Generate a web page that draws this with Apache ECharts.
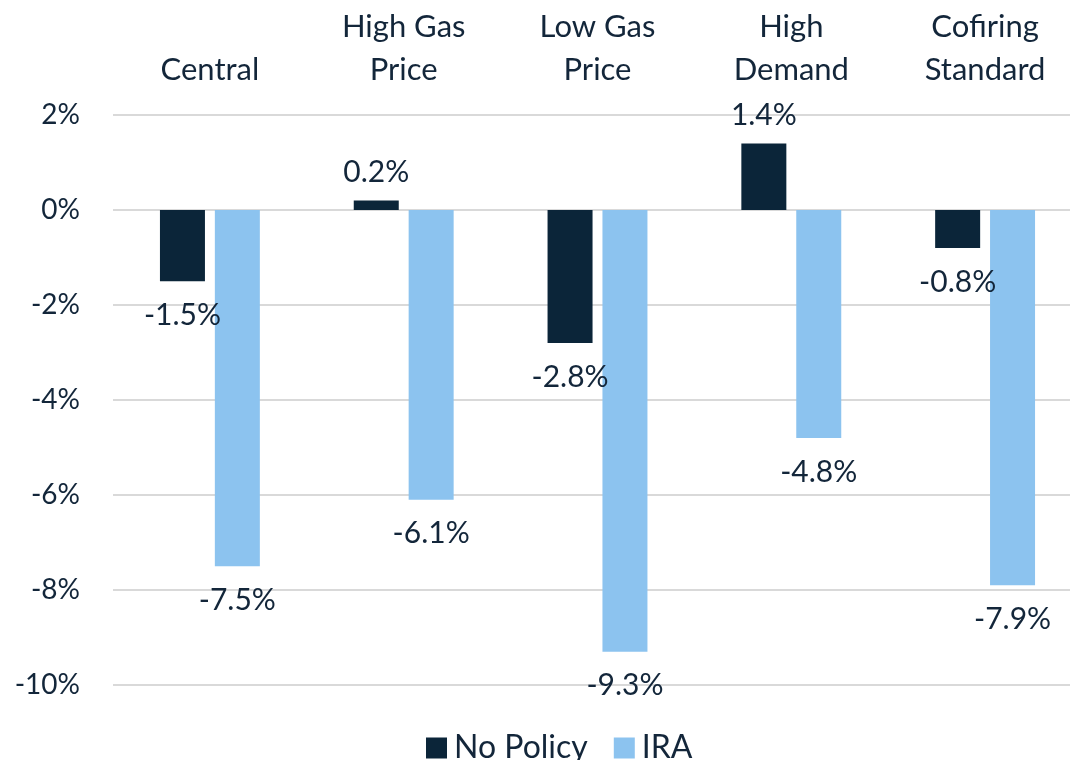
<!DOCTYPE html>
<html>
<head>
<meta charset="utf-8">
<script src="https://cdn.jsdelivr.net/npm/echarts@6/dist/echarts.min.js"></script>
<style>
  html, body { margin: 0; padding: 0; background: #ffffff; overflow: hidden; }
  /* canvas is a little wider than the window so the plot runs off the right edge */
  #chart { width: 1090px; height: 760px; }
</style>
</head>
<body>
<div id="chart"></div>
<script>
// Scenario names shown across the top
const categories = ['Central', 'High Gas\nPrice', 'Low Gas\nPrice', 'High\nDemand', 'Cofiring\nStandard'];
// Percent change by scenario
const noPolicy = [-1.5, 0.2, -2.8, 1.4, -0.8];
const ira = [-7.5, -6.1, -9.3, -4.8, -7.9];
const seriesNames = ['No Policy', 'IRA'];
// Y-axis range (percent)
const yMin = -10, yMax = 2, yStep = 2;

const FONT = 'Lato';
const TEXT = '#13263a';
const DARK = '#0b2539';
const LIGHT = '#8cc3ef';

// Negative values are labelled below the bar end, positive ones above it
function items(values) {
  return values.map(v => ({
    value: v,
    label: {
      position: v < 0 ? 'bottom' : 'top',
      distance: v < 0 ? 19 : 13
    }
  }));
}

const labelStyle = {
  show: true,
  fontFamily: FONT,
  fontSize: 30,
  color: TEXT,
  formatter: p => p.value.toFixed(1) + '%'
};

const chart = echarts.init(document.getElementById('chart'));
chart.setOption({
  animation: false,
  backgroundColor: '#ffffff',
  textStyle: { fontFamily: FONT },
  grid: { left: 113, right: 8, top: 115, bottom: 75, containLabel: false },
  legend: {
    top: 727,
    left: 421,
    itemWidth: 21,
    itemHeight: 21,
    itemGap: 26,
    icon: 'rect',
    textStyle: { fontFamily: FONT, fontSize: 32, color: TEXT, padding: [0, 0, 0, 2] },
    data: seriesNames
  },
  xAxis: {
    type: 'category',
    position: 'top',
    data: categories,
    axisLine: { show: false },
    axisTick: { show: false },
    axisLabel: {
      interval: 0,
      margin: 24,
      fontFamily: FONT,
      fontSize: 31,
      lineHeight: 43,
      color: TEXT
    }
  },
  yAxis: {
    type: 'value',
    min: yMin,
    max: yMax,
    interval: yStep,
    axisLine: { show: false },
    axisTick: { show: false },
    splitLine: { lineStyle: { color: '#d9d9d9', width: 2 } },
    axisLabel: {
      margin: 33,
      fontFamily: FONT,
      fontSize: 28,
      color: TEXT,
      formatter: v => v + '%'
    }
  },
  series: [
    {
      name: seriesNames[0],
      type: 'bar',
      data: items(noPolicy),
      barWidth: 45,
      barGap: '22%',
      itemStyle: { color: DARK },
      label: labelStyle,
      z: 2
    },
    {
      name: seriesNames[1],
      type: 'bar',
      data: items(ira),
      barWidth: 45,
      itemStyle: { color: LIGHT },
      label: labelStyle,
      z: 2
    }
  ]
});
</script>
</body>
</html>
